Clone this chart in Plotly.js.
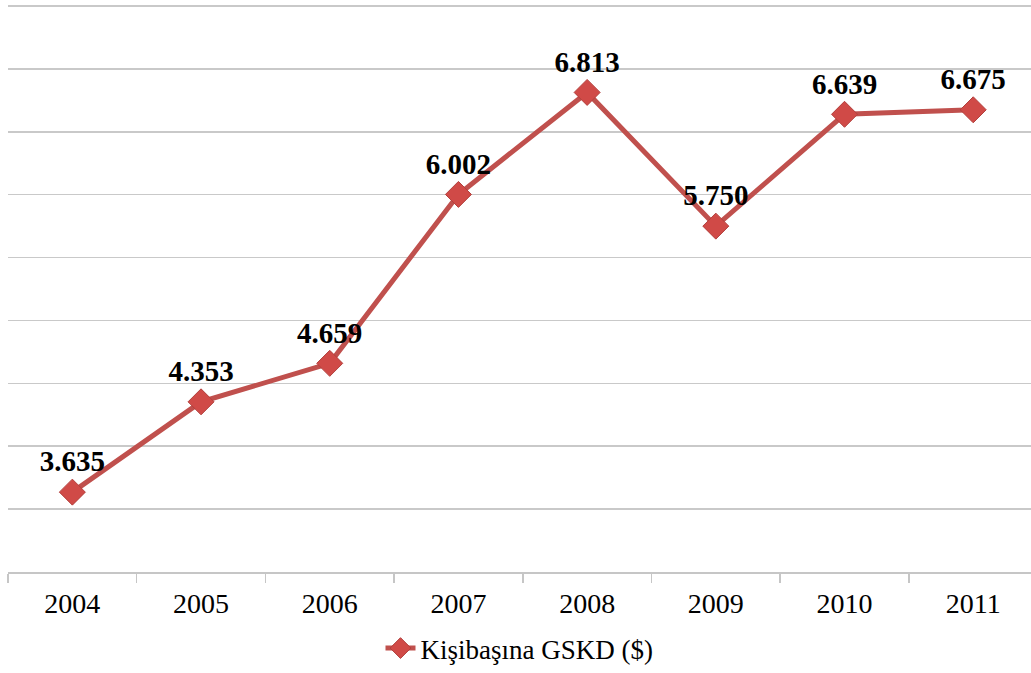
<!DOCTYPE html>
<html>
<head>
<meta charset="utf-8">
<script src="https://cdn.plot.ly/plotly-3.0.1.min.js"></script>
<style>html,body{margin:0;padding:0;background:#fff;}#chart{width:1031px;height:673px;}</style>
</head>
<body>
<div id="chart"></div>
<script>
const years = ["2004","2005","2006","2007","2008","2009","2010","2011"];
const gskd = [3.635, 4.353, 4.659, 6.002, 6.813, 5.750, 6.639, 6.675];
const labels = ["3.635","4.353","4.659","6.002","6.813","5.750","6.639","6.675"];
const seriesName = "Kişibaşına GSKD ($)";

const serif = "'Liberation Serif', 'Times New Roman', Times, serif";

const trace = {
  x: years, y: gskd, type: "scatter", mode: "lines+markers+text",
  name: seriesName,
  text: labels, textposition: "top center",
  textfont: {family: serif, size: 29, color: "#000", weight: "bold"},
  line: {color: "#C0504D", width: 5},
  marker: {symbol: "diamond", size: 20, color: "#D04A47", line: {color: "#B3403D", width: 1}},
  cliponaxis: false
};

const layout = {
  width: 1031, height: 673,
  margin: {l: 8, r: 0, t: 2, b: 98},
  paper_bgcolor: "#fff", plot_bgcolor: "#fff",
  font: {family: serif, color: "#000"},
  showlegend: true,
  legend: {orientation: "h", x: 0.5, xanchor: "center", y: -0.135, yanchor: "middle",
           font: {size: 27, family: serif}},
  xaxis: {type: "category", range: [-0.5, 7.449], tickson: "boundaries",
          ticks: "outside", ticklen: 9, tickcolor: "#c6c6c6", tickwidth: 1.5,
          showline: true, linecolor: "#c6c6c6", linewidth: 1.5, showgrid: false,
          ticklabelstandoff: 6,
          tickfont: {size: 28, family: serif}, fixedrange: true},
  yaxis: {range: [3, 7.532], dtick: 0.5, tick0: 3, showticklabels: false,
          showgrid: true, gridcolor: "#c9c9c9", gridwidth: 1.5, zeroline: false,
          ticks: "", showline: false, fixedrange: true}
};

Plotly.newPlot("chart", [trace], layout, {displayModeBar: false, staticPlot: true});
</script>
</body>
</html>
